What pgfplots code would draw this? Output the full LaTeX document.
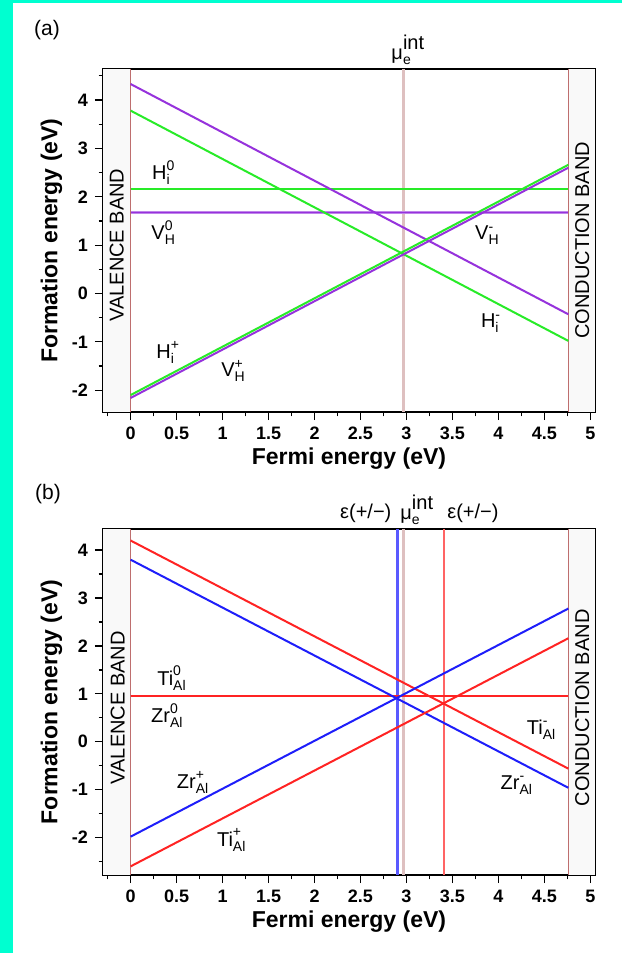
\documentclass[border=0pt]{standalone}
\usepackage{pgfplots}
\pgfplotsset{compat=1.18}
\usepackage{amsmath}
\usepackage{fontspec}
\setmainfont{Liberation Sans}
\definecolor{bordercyan}{RGB}{0,255,208}
\definecolor{cgreen}{RGB}{40,235,40}
\definecolor{cpurple}{RGB}{150,50,220}
\definecolor{cblue}{RGB}{30,30,250}
\definecolor{cred}{RGB}{255,35,35}
\definecolor{bandline}{RGB}{190,110,110}
\definecolor{muline}{RGB}{222,192,192}
\definecolor{vblue}{RGB}{90,90,255}
\definecolor{vred}{RGB}{255,100,100}
\newcommand{\lab}[3]{$\text{#1}_{\text{#2}}^{\text{#3}}$}
\newcommand{\mulab}{$\text{μ}_{\text{e}}^{\raisebox{1.5pt}{\text{int}}}$}
\pgfplotsset{fe/.style={
  scale only axis, width=246pt, xmin=-0.3, xmax=5.05,
  xtick={0,0.5,...,5}, minor xtick={-0.25,0.25,...,4.75},
  ytick={-2,...,4}, minor ytick={-2.5,-1.5,...,4.5},
  tick align=outside, xtick pos=left, ytick pos=left,
  major tick length=4pt, minor tick length=2.2pt,
  every tick/.style={black, line width=0.6pt},
  axis line style={line width=0.8pt},
  tick label style={font=\fontsize{9}{10}\selectfont\bfseries},
  /pgf/number format/assume math mode=true,
  label style={font=\fontsize{11.5}{13}\selectfont\bfseries},
  xlabel={Fermi energy (eV)}, ylabel={Formation energy (eV)},
  xlabel style={yshift=3pt}, ylabel style={yshift=-2pt},
  clip=false, anchor=south west,
  every node/.append style={font=\fontsize{10}{12}\selectfont},
}}
\begin{document}
\begin{tikzpicture}
\fill[white] (0,0) rectangle (311pt,-476.5pt);
\fill[bordercyan] (0,0) rectangle (6.25pt,-476.5pt);
\fill[bordercyan] (0,0) rectangle (311pt,-1.5pt);
\node[font=\fontsize{10.5}{12}\selectfont] at (23.5pt,-15pt) {(a)};
\node[font=\fontsize{10.5}{12}\selectfont] at (24pt,-247pt) {(b)};

% ---------------- panel (a)
\begin{axis}[fe, at={(51.5pt,-206pt)}, height=171.5pt, ymin=-2.45, ymax=4.64]
\addplot[draw=none, fill=gray!5] coordinates {(-0.3,-2.45) (0,-2.45) (0,4.64) (-0.3,4.64)} -- cycle;
\addplot[draw=none, fill=gray!5] coordinates {(4.76,-2.45) (5.05,-2.45) (5.05,4.64) (4.76,4.64)} -- cycle;
\addplot[bandline, line width=0.6pt] coordinates {(0,-2.45) (0,4.64)};
\addplot[bandline, line width=0.6pt] coordinates {(4.76,-2.45) (4.76,4.64)};
\addplot[muline, line width=1.5pt] coordinates {(2.97,-2.45) (2.97,4.64)};
\addplot[cgreen, line width=1pt] coordinates {(0,2.16) (4.76,2.16)};
\addplot[cpurple!60, line width=1.3pt] coordinates {(0,1.68) (4.76,1.68)};
\addplot[cpurple, line width=0.7pt] coordinates {(0,1.68) (4.76,1.68)};
\addplot[cgreen, line width=1pt] coordinates {(0,3.78) (4.76,-0.98)};
\addplot[cpurple, line width=1pt] coordinates {(0,4.33) (4.76,-0.43)};
\addplot[cpurple, line width=1pt] coordinates {(0,-2.16) (4.76,2.60)};
\addplot[cgreen, line width=1pt] coordinates {(0,-2.10) (4.76,2.66)};
\node[rotate=90] at (axis cs:-0.15,1.0) {VALENCE BAND};
\node[rotate=90] at (axis cs:4.91,1.1) {CONDUCTION BAND};
\node at (axis cs:0.36,2.5) {\lab{H}{i}{0}};
\node at (axis cs:0.36,1.26) {\lab{V}{H}{0}};
\node at (axis cs:0.41,-1.22) {\lab{H}{i}{+}};
\node at (axis cs:1.12,-1.6) {\lab{V}{H}{+}};
\node at (axis cs:3.92,-0.62) {\lab{H}{i}{-}};
\node at (axis cs:3.88,1.2) {\lab{V}{H}{-}};
\node[anchor=south, inner sep=0pt, yshift=2pt] at (axis cs:3.02,4.64) {\mulab};
\end{axis}

% ---------------- panel (b)
\begin{axis}[fe, at={(51.5pt,-437.5pt)}, height=173pt, ymin=-2.78, ymax=4.44]
\addplot[draw=none, fill=gray!5] coordinates {(-0.3,-2.78) (0,-2.78) (0,4.44) (-0.3,4.44)} -- cycle;
\addplot[draw=none, fill=gray!5] coordinates {(4.76,-2.78) (5.05,-2.78) (5.05,4.44) (4.76,4.44)} -- cycle;
\addplot[bandline, line width=0.6pt] coordinates {(0,-2.78) (0,4.44)};
\addplot[bandline, line width=0.6pt] coordinates {(4.76,-2.78) (4.76,4.44)};
\addplot[muline, line width=1.5pt] coordinates {(2.97,-2.78) (2.97,4.44)};
\addplot[vblue, line width=1.4pt] coordinates {(2.90,-2.78) (2.90,4.44)};
\addplot[vred, line width=1.1pt] coordinates {(3.41,-2.78) (3.41,4.44)};
\addplot[cblue, line width=1pt] coordinates {(0,0.95) (4.76,0.95)};
\addplot[cred, line width=1pt] coordinates {(0,0.95) (4.76,0.95)};
\addplot[cblue, line width=1pt] coordinates {(0,3.80) (4.76,-0.96)};
\addplot[cred, line width=1pt] coordinates {(0,4.20) (4.76,-0.56)};
\addplot[cblue, line width=1pt] coordinates {(0,-1.98) (4.76,2.78)};
\addplot[cred, line width=1pt] coordinates {(0,-2.60) (4.76,2.16)};
\node[rotate=90] at (axis cs:-0.14,0.71) {VALENCE BAND};
\node[rotate=90] at (axis cs:4.91,0.71) {CONDUCTION BAND};
\node at (axis cs:0.45,1.33) {\lab{Ti}{Al}{0}};
\node at (axis cs:0.4,0.55) {\lab{Zr}{Al}{0}};
\node at (axis cs:0.68,-0.85) {\lab{Zr}{Al}{+}};
\node at (axis cs:1.1,-2.05) {\lab{Ti}{Al}{+}};
\node at (axis cs:4.47,0.25) {\lab{Ti}{Al}{-}};
\node at (axis cs:4.2,-0.9) {\lab{Zr}{Al}{-}};
\node[anchor=south east, inner sep=0pt, yshift=3pt] at (axis cs:2.84,4.44) {ε(+/−)};
\node[anchor=south west, inner sep=0pt, yshift=2pt] at (axis cs:2.93,4.44) {\mulab};
\node[anchor=south west, inner sep=0pt, yshift=3pt] at (axis cs:3.44,4.44) {ε(+/−)};
\end{axis}
\end{tikzpicture}
\end{document}
